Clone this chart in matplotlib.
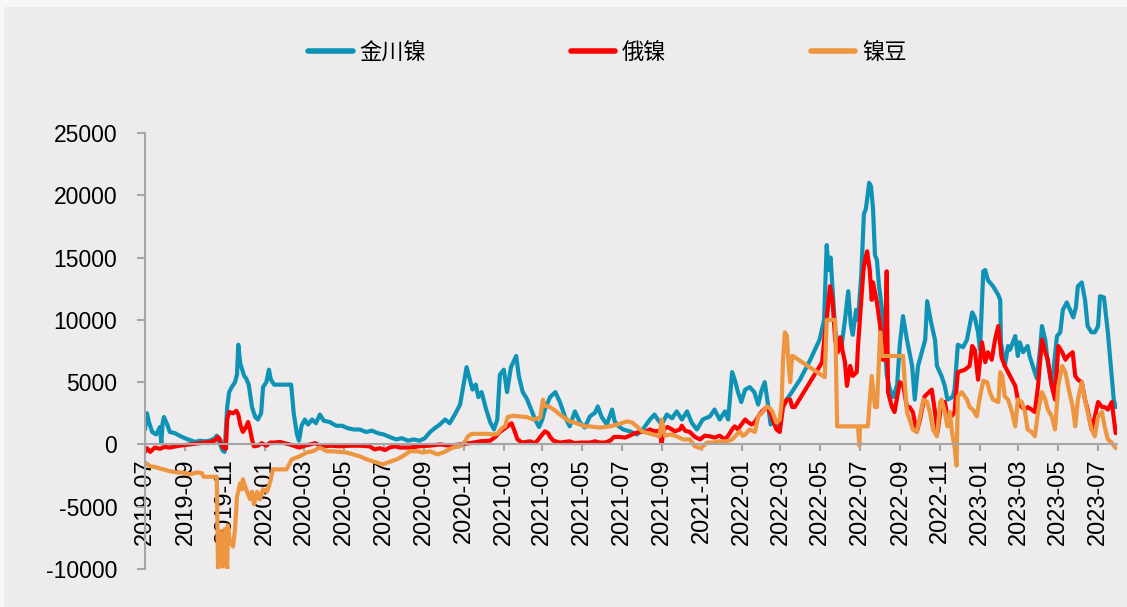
import matplotlib
matplotlib.use("Agg")
import matplotlib.pyplot as plt
import matplotlib.dates as mdates
from matplotlib.patches import Rectangle
from matplotlib.ticker import FixedLocator, FuncFormatter
import pandas as pd

plt.rcParams['font.family'] = ['Liberation Sans', 'Noto Sans CJK SC']

# ---- 金川镍 premium ----
jc_dates = [
    "2019-07-01", "2019-07-04", "2019-07-07", "2019-07-12", "2019-07-18", "2019-07-24", "2019-07-26",
    "2019-07-28", "2019-07-30", "2019-08-04", "2019-08-08", "2019-08-16", "2019-08-23", "2019-08-31",
    "2019-09-08", "2019-09-16", "2019-09-23", "2019-10-01", "2019-10-08", "2019-10-16", "2019-10-19",
    "2019-10-22", "2019-10-25", "2019-10-28", "2019-10-31", "2019-11-04", "2019-11-07", "2019-11-11",
    "2019-11-16", "2019-11-19", "2019-11-21", "2019-11-24", "2019-11-27", "2019-11-30", "2019-12-03",
    "2019-12-07", "2019-12-12", "2019-12-17", "2019-12-21", "2019-12-26", "2019-12-29", "2020-01-03",
    "2020-01-07", "2020-01-10", "2020-01-15", "2020-02-10", "2020-02-14", "2020-02-19", "2020-02-22",
    "2020-02-26", "2020-03-02", "2020-03-07", "2020-03-13", "2020-03-19", "2020-03-25", "2020-03-31",
    "2020-04-09", "2020-04-19", "2020-04-28", "2020-05-07", "2020-05-16", "2020-05-25", "2020-06-04",
    "2020-06-13", "2020-06-22", "2020-07-01", "2020-07-10", "2020-07-20", "2020-07-29", "2020-08-07",
    "2020-08-16", "2020-08-25", "2020-09-02", "2020-09-10", "2020-09-17", "2020-09-25", "2020-10-03",
    "2020-10-10", "2020-10-18", "2020-10-26", "2020-11-01", "2020-11-05", "2020-11-10", "2020-11-14",
    "2020-11-19", "2020-11-23", "2020-11-28", "2020-12-05", "2020-12-11", "2020-12-17", "2020-12-22",
    "2020-12-26", "2021-01-01", "2021-01-06", "2021-01-12", "2021-01-20", "2021-01-24", "2021-01-30",
    "2021-02-05", "2021-02-12", "2021-02-18", "2021-02-24", "2021-03-01", "2021-03-05", "2021-03-13",
    "2021-03-21", "2021-03-28", "2021-04-05", "2021-04-12", "2021-04-20", "2021-04-28", "2021-05-05",
    "2021-05-13", "2021-05-21", "2021-05-25", "2021-05-31", "2021-06-08", "2021-06-16", "2021-06-20",
    "2021-06-25", "2021-07-03", "2021-07-13", "2021-07-24", "2021-08-02", "2021-08-13", "2021-08-20",
    "2021-08-25", "2021-08-31", "2021-09-08", "2021-09-16", "2021-09-23", "2021-10-01", "2021-10-09",
    "2021-10-16", "2021-10-24", "2021-11-02", "2021-11-13", "2021-11-20", "2021-11-28", "2021-12-06",
    "2021-12-11", "2021-12-17", "2021-12-21", "2021-12-26", "2021-12-31", "2022-01-06", "2022-01-13",
    "2022-01-20", "2022-01-26", "2022-01-31", "2022-02-05", "2022-02-10", "2022-02-14", "2022-02-20",
    "2022-02-27", "2022-03-05", "2022-03-16", "2022-03-31", "2022-04-15", "2022-04-30", "2022-05-07",
    "2022-05-10", "2022-05-11", "2022-05-14", "2022-05-17", "2022-05-20", "2022-05-24", "2022-05-28",
    "2022-06-02", "2022-06-08", "2022-06-13", "2022-06-17", "2022-06-20", "2022-06-25", "2022-06-28",
    "2022-07-03", "2022-07-07", "2022-07-10", "2022-07-13", "2022-07-15", "2022-07-18", "2022-07-21",
    "2022-07-24", "2022-07-27", "2022-07-30", "2022-08-02", "2022-08-07", "2022-08-11", "2022-08-16",
    "2022-08-21", "2022-08-27", "2022-08-31", "2022-09-05", "2022-09-11", "2022-09-19", "2022-09-23",
    "2022-09-28", "2022-10-09", "2022-10-12", "2022-10-18", "2022-10-24", "2022-10-27", "2022-11-03",
    "2022-11-08", "2022-11-12", "2022-11-20", "2022-11-23", "2022-11-28", "2022-12-06", "2022-12-12",
    "2022-12-20", "2022-12-24", "2022-12-29", "2023-01-01", "2023-01-06", "2023-01-09", "2023-01-13",
    "2023-01-21", "2023-01-29", "2023-02-01", "2023-02-02", "2023-02-08", "2023-02-13", "2023-02-16",
    "2023-02-24", "2023-02-28", "2023-03-03", "2023-03-08", "2023-03-15", "2023-03-18", "2023-03-29",
    "2023-04-03", "2023-04-06", "2023-04-11", "2023-04-15", "2023-04-21", "2023-04-29", "2023-05-04",
    "2023-05-08", "2023-05-14", "2023-05-19", "2023-05-24", "2023-05-28", "2023-05-31", "2023-06-06",
    "2023-06-11", "2023-06-15", "2023-06-21", "2023-06-26", "2023-07-01", "2023-07-04", "2023-07-10",
    "2023-07-16", "2023-07-21", "2023-07-25", "2023-07-28",
]
jc_vals = [
    1200, 2500, 1800, 1000, 800, 1400, 100,
    1700, 2200, 1600, 1000, 900, 700, 500,
    350, 200, 300, 250, 300, 500, 700,
    300, -100, -500, -600, 3000, 4200, 4600,
    5000, 5600, 8000, 6500, 6000, 5500, 5300,
    4800, 3000, 2200, 2000, 2500, 4600, 5000,
    6000, 5200, 4800, 4800, 2500, 800, 300,
    1500, 2000, 1600, 2000, 1700, 2400, 1900,
    1800, 1500, 1500, 1300, 1200, 1200, 1000,
    1100, 900, 800, 600, 400, 500, 300,
    400, 300, 500, 1000, 1300, 1600, 2000,
    1700, 2400, 3200, 5000, 6200, 5200, 4400,
    4800, 3800, 4200, 2800, 1800, 1200, 2000,
    5600, 6000, 4200, 6200, 7100, 5500, 4200,
    3700, 2800, 2000, 1400, 2000, 2800, 3800,
    4200, 3400, 2200, 1450, 2650, 1750, 1350,
    2250, 2550, 3050, 2200, 1600, 2800, 1850,
    1500, 1200, 1050, 800, 1200, 2000, 2400,
    2000, 1600, 2400, 2100, 2650, 2000, 2650,
    1750, 1200, 2000, 2250, 2800, 2000, 2650,
    2000, 5800, 5200, 4200, 3400, 4400, 4600,
    4200, 3200, 4300, 5000, 3200, 1600, 2000,
    1200, 3200, 4000, 5200, 6700, 8400, 10000,
    14400, 16000, 14000, 15000, 12400, 9200, 8000,
    7600, 10000, 12300, 9600, 8800, 10800, 10000,
    13600, 18500, 18900, 20100, 21000, 20700, 18900,
    15200, 14800, 12800, 11600, 9200, 5600, 4400,
    3800, 4800, 8000, 10300, 8400, 6300, 3600,
    6300, 8400, 11500, 9800, 8400, 6300, 5500,
    4700, 3600, 3800, 4400, 8000, 7800, 8400,
    10600, 10200, 9000, 7600, 13900, 14000, 13200,
    12700, 12000, 11600, 8200, 6300, 7900, 7600,
    8700, 7100, 8200, 7400, 7900, 7100, 5300,
    7600, 9500, 8400, 6500, 4700, 8700, 9000,
    10800, 11400, 10800, 10200, 11000, 12700, 13000,
    11600, 9500, 9000, 9000, 9500, 11900, 11800,
    9000, 6000, 3600, 3000,
]

# ---- 俄镍 premium ----
ru_dates = [
    "2019-07-01", "2019-07-04", "2019-07-09", "2019-07-16", "2019-07-24", "2019-07-31", "2019-08-08",
    "2019-08-23", "2019-09-08", "2019-09-23", "2019-10-08", "2019-10-16", "2019-10-21", "2019-10-24",
    "2019-10-27", "2019-10-30", "2019-11-02", "2019-11-04", "2019-11-07", "2019-11-13", "2019-11-18",
    "2019-11-21", "2019-11-24", "2019-11-28", "2019-12-03", "2019-12-06", "2019-12-09", "2019-12-12",
    "2019-12-15", "2019-12-21", "2019-12-27", "2020-01-03", "2020-01-09", "2020-01-16", "2020-01-24",
    "2020-01-31", "2020-02-08", "2020-02-16", "2020-02-23", "2020-03-02", "2020-03-10", "2020-03-18",
    "2020-03-25", "2020-04-02", "2020-04-10", "2020-04-25", "2020-05-10", "2020-05-25", "2020-06-09",
    "2020-06-17", "2020-06-25", "2020-07-03", "2020-07-10", "2020-07-18", "2020-07-26", "2020-08-10",
    "2020-08-25", "2020-09-09", "2020-09-25", "2020-10-10", "2020-10-26", "2020-11-10", "2020-11-26",
    "2020-12-11", "2020-12-19", "2020-12-26", "2021-01-03", "2021-01-13", "2021-01-18", "2021-01-22",
    "2021-01-29", "2021-02-10", "2021-02-18", "2021-02-23", "2021-02-26", "2021-03-05", "2021-03-10",
    "2021-03-13", "2021-03-18", "2021-03-28", "2021-04-12", "2021-04-20", "2021-04-28", "2021-05-13",
    "2021-05-21", "2021-05-28", "2021-06-05", "2021-06-13", "2021-06-19", "2021-06-28", "2021-07-06",
    "2021-07-13", "2021-07-21", "2021-07-29", "2021-08-05", "2021-08-13", "2021-08-20", "2021-08-28",
    "2021-08-31", "2021-09-03", "2021-09-09", "2021-09-16", "2021-09-20", "2021-09-28", "2021-10-01",
    "2021-10-06", "2021-10-13", "2021-10-21", "2021-10-29", "2021-11-05", "2021-11-13", "2021-11-20",
    "2021-11-28", "2021-12-06", "2021-12-11", "2021-12-17", "2021-12-21", "2021-12-26", "2021-12-29",
    "2022-01-06", "2022-01-10", "2022-01-16", "2022-01-21", "2022-01-26", "2022-01-31", "2022-02-08",
    "2022-02-13", "2022-02-17", "2022-02-23", "2022-02-28", "2022-03-05", "2022-03-11", "2022-03-16",
    "2022-03-19", "2022-03-23", "2022-05-04", "2022-05-08", "2022-05-11", "2022-05-16", "2022-05-20",
    "2022-05-24", "2022-05-28", "2022-06-01", "2022-06-04", "2022-06-08", "2022-06-11", "2022-06-16",
    "2022-06-20", "2022-06-26", "2022-06-28", "2022-07-03", "2022-07-06", "2022-07-07", "2022-07-10",
    "2022-07-12", "2022-07-16", "2022-07-19", "2022-07-21", "2022-07-24", "2022-07-27", "2022-08-01",
    "2022-08-05", "2022-08-08", "2022-08-11", "2022-08-13", "2022-08-19", "2022-08-23", "2022-08-31",
    "2022-09-05", "2022-09-11", "2022-09-15", "2022-09-20", "2022-09-26", "2022-10-01", "2022-10-08",
    "2022-10-13", "2022-10-19", "2022-10-24", "2022-10-28", "2022-11-03", "2022-11-08", "2022-11-12",
    "2022-11-19", "2022-11-23", "2022-11-28", "2022-12-09", "2022-12-16", "2022-12-20", "2022-12-24",
    "2022-12-29", "2023-01-04", "2023-01-09", "2023-01-13", "2023-01-19", "2023-01-24", "2023-01-29",
    "2023-02-03", "2023-02-08", "2023-02-13", "2023-02-19", "2023-02-24", "2023-02-28", "2023-03-06",
    "2023-03-11", "2023-03-15", "2023-03-21", "2023-03-26", "2023-03-31", "2023-04-06", "2023-04-11",
    "2023-04-15", "2023-04-21", "2023-04-26", "2023-05-01", "2023-05-07", "2023-05-12", "2023-05-16",
    "2023-05-23", "2023-05-27", "2023-05-31", "2023-06-06", "2023-06-11", "2023-06-15", "2023-06-21",
    "2023-06-26", "2023-07-01", "2023-07-07", "2023-07-11", "2023-07-16", "2023-07-22", "2023-07-28",
]
ru_vals = [
    -600, -300, -600, -250, -350, -200, -250,
    -100, 0, 100, 200, 300, 600, 400,
    -100, -300, -350, 2000, 2600, 2500, 2700,
    2400, 1600, 1000, 1400, 1800, 1200, 400,
    -150, -100, 100, -100, 150, 150, 200,
    100, 0, -150, -250, -100, 0, 100,
    -100, -150, -100, -150, -100, -100, -150,
    -400, -300, -450, -250, -150, -250, -250,
    -150, -100, 0, -100, 0, 100, 250,
    300, 600, 1000, 1300, 1700, 1000, 400,
    150, 250, 100, 400, 600, 1050, 900,
    600, 300, 150, 250, 100, 150, 150,
    250, 150, 150, 300, 600, 600, 550,
    700, 900, 1000, 1000, 1200, 1050, 1100,
    100, 1200, 1400, 1200, 1050, 1200, 1500,
    1100, 1000, 600, 400, 700, 650, 550,
    700, 400, 700, 1200, 1450, 1200, 1450,
    2000, 1800, 1600, 1800, 2250, 2600, 3000,
    2600, 2000, 1200, 1000, 3000, 3600, 3600,
    3000, 3000, 6600, 8800, 10000, 12700, 11500,
    8400, 7400, 8600, 7600, 6600, 4700, 6300,
    5500, 5800, 7900, 11600, 13800, 14300, 15100,
    15500, 14000, 11600, 13000, 12200, 11400, 9500,
    6800, 6800, 13900, 4200, 3000, 2600, 5000,
    4800, 3000, 3000, 2600, 1000, 2000, 3850,
    4100, 4400, 2600, 1000, 3400, 3400, 2300,
    2300, 2600, 5800, 6000, 6300, 7900, 7600,
    5200, 8200, 6600, 7400, 6800, 8400, 9500,
    7000, 6300, 5800, 5200, 4700, 3600, 3000,
    2800, 3000, 2800, 2600, 4700, 8400, 7400,
    6800, 4700, 3600, 7900, 7400, 6800, 7100,
    7400, 5500, 5200, 5000, 3600, 2800, 1200,
    2200, 3400, 3000, 3000, 2800, 3400, 900,
]

# ---- 镍豆 premium ----
nb_dates = [
    "2019-07-01", "2019-07-09", "2019-07-19", "2019-07-29", "2019-08-08", "2019-08-19", "2019-08-28",
    "2019-09-08", "2019-09-19", "2019-09-26", "2019-09-29", "2019-10-13", "2019-10-19", "2019-10-21",
    "2019-10-24", "2019-10-27", "2019-10-28", "2019-10-31", "2019-11-04", "2019-11-05", "2019-11-08",
    "2019-11-13", "2019-11-16", "2019-11-19", "2019-11-24", "2019-11-27", "2019-11-28", "2019-12-05",
    "2019-12-09", "2019-12-12", "2019-12-15", "2019-12-20", "2019-12-24", "2019-12-29", "2020-01-04",
    "2020-01-09", "2020-01-13", "2020-02-03", "2020-02-11", "2020-02-23", "2020-03-05", "2020-03-14",
    "2020-03-25", "2020-04-05", "2020-04-14", "2020-05-05", "2020-05-25", "2020-06-05", "2020-06-14",
    "2020-06-29", "2020-07-10", "2020-07-21", "2020-07-30", "2020-08-10", "2020-08-21", "2020-08-30",
    "2020-09-10", "2020-09-21", "2020-09-30", "2020-10-15", "2020-10-26", "2020-11-02", "2020-11-07",
    "2020-11-13", "2020-12-06", "2020-12-15", "2020-12-22", "2020-12-29", "2021-01-03", "2021-01-07",
    "2021-01-15", "2021-02-05", "2021-02-15", "2021-02-26", "2021-03-02", "2021-03-05", "2021-03-13",
    "2021-03-21", "2021-03-28", "2021-04-05", "2021-04-12", "2021-04-20", "2021-04-28", "2021-05-05",
    "2021-05-13", "2021-05-28", "2021-06-13", "2021-06-24", "2021-07-03", "2021-07-09", "2021-07-17",
    "2021-07-24", "2021-08-01", "2021-08-08", "2021-08-18", "2021-08-28", "2021-08-31", "2021-09-05",
    "2021-09-13", "2021-09-23", "2021-10-03", "2021-10-13", "2021-10-21", "2021-10-29", "2021-11-02",
    "2021-11-09", "2021-11-18", "2021-11-28", "2021-12-09", "2021-12-17", "2021-12-24", "2021-12-29",
    "2022-01-02", "2022-01-06", "2022-01-13", "2022-01-21", "2022-01-26", "2022-02-02", "2022-02-08",
    "2022-02-13", "2022-02-17", "2022-02-23", "2022-02-28", "2022-03-03", "2022-03-05", "2022-03-08",
    "2022-03-11", "2022-03-13", "2022-03-16", "2022-03-19", "2022-03-20", "2022-05-08", "2022-05-11",
    "2022-05-24", "2022-05-27", "2022-06-28", "2022-06-30", "2022-07-01", "2022-07-13", "2022-07-19",
    "2022-07-24", "2022-07-27", "2022-08-01", "2022-08-04", "2022-09-05", "2022-09-08", "2022-09-11",
    "2022-09-15", "2022-09-20", "2022-09-26", "2022-10-01", "2022-10-06", "2022-10-12", "2022-10-16",
    "2022-10-21", "2022-10-27", "2022-11-01", "2022-11-03", "2022-11-08", "2022-11-12", "2022-11-16",
    "2022-11-19", "2022-11-23", "2022-11-26", "2022-11-28", "2022-12-04", "2022-12-12", "2022-12-16",
    "2022-12-21", "2022-12-27", "2023-01-01", "2023-01-06", "2023-01-12", "2023-01-16", "2023-01-21",
    "2023-01-29", "2023-02-01", "2023-02-04", "2023-02-08", "2023-02-13", "2023-02-19", "2023-02-24",
    "2023-02-28", "2023-03-06", "2023-03-11", "2023-03-15", "2023-03-21", "2023-03-26", "2023-03-31",
    "2023-04-06", "2023-04-11", "2023-04-15", "2023-04-21", "2023-04-26", "2023-05-01", "2023-05-07",
    "2023-05-12", "2023-05-16", "2023-05-23", "2023-05-27", "2023-05-31", "2023-06-06", "2023-06-11",
    "2023-06-15", "2023-06-21", "2023-06-26", "2023-07-01", "2023-07-07", "2023-07-11", "2023-07-16",
    "2023-07-22", "2023-07-28",
]
nb_vals = [
    -1450, -1750, -1850, -2000, -2150, -2250, -2250,
    -2400, -2250, -2300, -2600, -2600, -2600, -10000,
    -7000, -7900, -9800, -6800, -10000, -6500, -7800,
    -8200, -6800, -4200, -3100, -3600, -2800, -3900,
    -4400, -3800, -4800, -3800, -4400, -3600, -3800,
    -3000, -2000, -2000, -1200, -950, -650, -550,
    -250, -550, -550, -650, -950, -1200, -1350,
    -1600, -1400, -1200, -950, -550, -550, -650,
    -550, -800, -650, -250, -150, 200, 650,
    850, 850, 800, 850, 1300, 1450, 2200,
    2300, 2200, 2000, 2150, 3600, 3100, 3000,
    2700, 2400, 2100, 1850, 1750, 1600, 1450,
    1450, 1350, 1450, 1600, 1750, 1850, 1750,
    1450, 1050, 950, 800, 650, 2000, 700,
    800, 650, 400, 400, -150, -300, -150,
    150, 150, 250, 250, 400, 800, 1050,
    700, 800, 1200, 1000, 2250, 2600, 3050,
    2900, 2600, 1750, 2000, 3400, 6800, 9000,
    8700, 6800, 5000, 7100, 7100, 5400, 10000,
    10000, 1450, 1450, -100, 1450, 1450, 5500,
    3000, 3000, 9000, 7100, 7100, 4700, 2600,
    2000, 1200, 1000, 2250, 3600, 3400, 2600,
    1200, 650, 3400, 3600, 2600, 1450, 2600,
    1000, -200, -1700, 3850, 4200, 3600, 3000,
    2800, 2250, 3850, 5100, 5000, 4200, 3600,
    3400, 5800, 5500, 3850, 3600, 2600, 1450,
    3600, 3400, 2600, 1200, 1000, 650, 2600,
    4200, 3600, 2800, 2250, 1200, 4700, 6300,
    5800, 4700, 3000, 1450, 3600, 5000, 3600,
    2600, 1200, 650, 2250, 2600, 1450, 400,
    150, -300,
]

series_names = ["金川镍", "俄镍", "镍豆"]
series_colors = ["#0E93B7", "#FF0000", "#EE9540"]

y_ticks = [-10000, -5000, 0, 5000, 10000, 15000, 20000, 25000]
x_start, x_end = "2019-07-01", "2023-07-30"

fig = plt.figure(figsize=(11.27, 6.07), dpi=100, facecolor="#F7F7F7")
fig.patches.append(Rectangle((4 / 1127, 0), 1, 1 - 7 / 607, transform=fig.transFigure,
                             facecolor="#EDEBEC", edgecolor="none", zorder=-10))

ax = fig.add_axes([145 / 1127, 38 / 607, 972 / 1127, 436 / 607])
ax.set_facecolor("none")
ax.set_zorder(5)

data = [(jc_dates, jc_vals), (ru_dates, ru_vals), (nb_dates, nb_vals)]
for (d, v), name, color in zip(data, series_names, series_colors):
    ax.plot(pd.to_datetime(d), v, color=color, lw=3.0, label=name,
            solid_joinstyle="round", solid_capstyle="round")

ax.set_ylim(y_ticks[0], y_ticks[-1])
ax.set_xlim(pd.Timestamp(x_start), pd.Timestamp(x_end))
ax.yaxis.set_major_locator(FixedLocator(y_ticks))
ax.yaxis.set_major_formatter(FuncFormatter(lambda v, p: f"{int(v)}"))

ax.xaxis.set_major_locator(mdates.MonthLocator(bymonth=[1, 3, 5, 7, 9, 11]))
ax.xaxis.set_major_formatter(mdates.DateFormatter("%Y-%m"))

axis_gray = "#A6A6A6"
for side in ["top", "right"]:
    ax.spines[side].set_visible(False)
ax.spines["bottom"].set_position(("data", 0))
ax.spines["bottom"].set_color(axis_gray)
ax.spines["bottom"].set_linewidth(1.5)
ax.spines["left"].set_color(axis_gray)
ax.spines["left"].set_linewidth(1.5)

ax.tick_params(axis="y", direction="out", length=6, width=1.5, color=axis_gray,
               labelsize=16.5, pad=14)
ax.tick_params(axis="x", direction="out", length=5, width=1.5, color=axis_gray,
               labelsize=17, pad=5, labelrotation=90)

leg = fig.legend(loc="center", bbox_to_anchor=(0.539, 1 - 53 / 607), ncol=3, frameon=False,
                 fontsize=16, handlelength=2.0, handletextpad=0.3, columnspacing=6.5)
for line in leg.get_lines():
    line.set_linewidth(4)

fig.savefig("out.png", dpi=100, facecolor=fig.get_facecolor())
